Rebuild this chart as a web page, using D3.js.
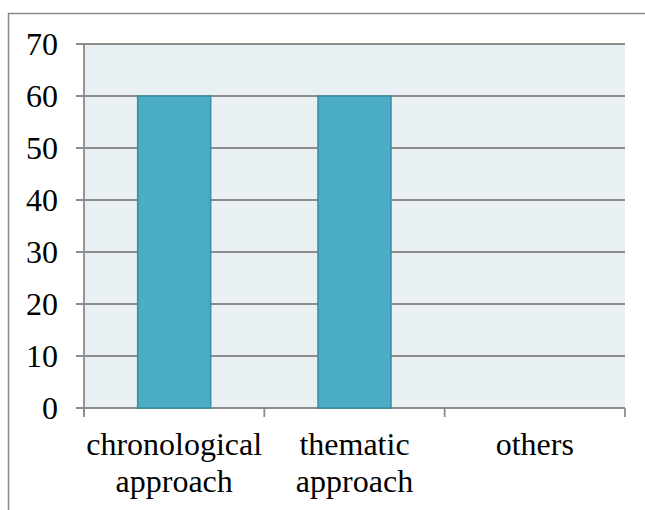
<!DOCTYPE html>
<html>
<head>
<meta charset="utf-8">
<script src="https://cdn.jsdelivr.net/npm/d3@7"></script>
<style>
  body { margin: 0; background: #fff; }
  svg text { font-family: "Liberation Serif", "Times New Roman", serif; fill: #000; }
</style>
</head>
<body>
<div id="chart"></div>
<script>
var categories = ["chronological approach", "thematic approach", "others"];
var labelLines = [["chronological", "approach"], ["thematic", "approach"], ["others"]];
var values = [60, 60, 0];
var yTicks = [0, 10, 20, 30, 40, 50, 60, 70];

var W = 645, H = 510;
var plotLeft = 84, plotRight = 625, plotTop = 44, plotBottom = 408;

var svg = d3.select("#chart").append("svg")
  .attr("width", W)
  .attr("height", H);

// outer frame (top and left edges visible)
svg.append("path")
  .attr("d", "M8.5," + H + "V13.5H" + W)
  .attr("fill", "none")
  .attr("stroke", "#898989")
  .attr("stroke-width", 1.5);

var x = d3.scaleBand().domain(categories).range([plotLeft, plotRight]).paddingInner(0).paddingOuter(0);
var y = d3.scaleLinear().domain([0, 70]).range([plotBottom, plotTop]);

svg.append("rect")
  .attr("x", plotLeft).attr("y", plotTop)
  .attr("width", plotRight - plotLeft).attr("height", plotBottom - plotTop)
  .attr("fill", "#e8f0f4");

// gridlines + y ticks
svg.append("g").selectAll("line")
  .data(yTicks)
  .enter().append("line")
  .attr("x1", plotLeft - 8).attr("x2", plotRight)
  .attr("y1", function(d) { return y(d); })
  .attr("y2", function(d) { return y(d); })
  .attr("stroke", "#8c8c8c")
  .attr("stroke-width", 1.8);

// y axis line
svg.append("line")
  .attr("x1", plotLeft).attr("x2", plotLeft)
  .attr("y1", plotTop).attr("y2", plotBottom + 8)
  .attr("stroke", "#8c8c8c").attr("stroke-width", 1.8);

// x category boundary ticks
var bounds = categories.map(function(c) { return x(c); }).concat([plotRight]);
svg.append("g").selectAll("line")
  .data(bounds)
  .enter().append("line")
  .attr("x1", function(d) { return d; }).attr("x2", function(d) { return d; })
  .attr("y1", plotBottom).attr("y2", plotBottom + 9)
  .attr("stroke", "#8c8c8c").attr("stroke-width", 1.8);

// bars
var barW = 73;
svg.append("g").selectAll("rect")
  .data(values)
  .enter().append("rect")
  .attr("x", function(d, i) { return x(categories[i]) + x.bandwidth() / 2 - barW / 2; })
  .attr("y", function(d) { return y(d); })
  .attr("width", barW)
  .attr("height", function(d) { return plotBottom - y(d); })
  .attr("fill", "#4bacc6")
  .attr("stroke", "#3a8aa0")
  .attr("stroke-width", function(d) { return d > 0 ? 1.5 : 0; });

// y labels
svg.append("g").selectAll("text")
  .data(yTicks)
  .enter().append("text")
  .attr("x", 58)
  .attr("y", function(d) { return y(d); })
  .attr("dy", "0.34em")
  .attr("text-anchor", "end")
  .attr("font-size", 32)
  .text(function(d) { return d; });

// x labels
var xl = svg.append("g").selectAll("text")
  .data(labelLines)
  .enter().append("text")
  .attr("text-anchor", "middle")
  .attr("font-size", 32)
  .attr("x", function(d, i) { return x(categories[i]) + x.bandwidth() / 2; });
xl.selectAll("tspan")
  .data(function(d) { return d; })
  .enter().append("tspan")
  .attr("x", function() { return this.parentNode.getAttribute("x"); })
  .attr("y", function(d, i) { return 455 + i * 37; })
  .text(function(d) { return d; });
</script>
</body>
</html>
